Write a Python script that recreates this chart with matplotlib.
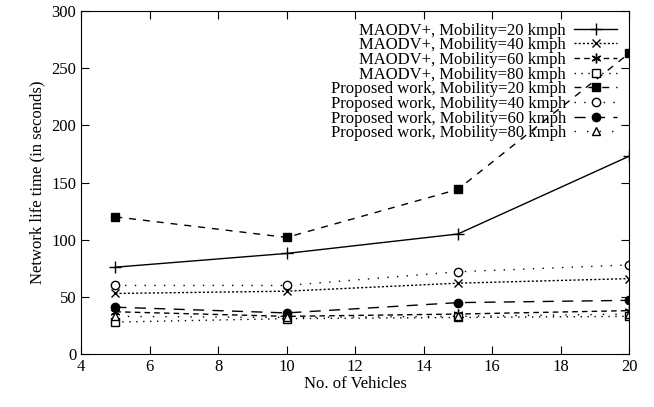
import numpy as np
import matplotlib.pyplot as plt

vehicles = [5, 10, 15, 20]

maodv_20 = [76, 88, 105, 173]
maodv_40 = [53, 55, 62, 66]
maodv_60 = [37, 33, 35, 38]
maodv_80 = [28, 31, 32, 33]
prop_20 = [120, 102, 144, 263]
prop_40 = [60, 60, 72, 78]
prop_60 = [41, 36, 45, 47]
prop_80 = [33, 32, 33, 35]

labels = ['MAODV+, Mobility=20 kmph', 'MAODV+, Mobility=40 kmph',
          'MAODV+, Mobility=60 kmph', 'MAODV+, Mobility=80 kmph',
          'Proposed work, Mobility=20 kmph', 'Proposed work, Mobility=40 kmph',
          'Proposed work, Mobility=60 kmph', 'Proposed work, Mobility=80 kmph']

plt.rcParams['font.family'] = ['Liberation Serif', 'DejaVu Serif']

fig = plt.figure(figsize=(6.54, 4.07), dpi=100)
ax = fig.add_axes([0.124, 0.130, 0.838, 0.843])

ms = 6
ax.plot(vehicles, maodv_20, color='black', lw=1, ls='-', marker='+', ms=8, label=labels[0])
ax.plot(vehicles, maodv_40, color='black', lw=1, ls=(0, (1.5, 1.5)), marker='x', ms=ms, label=labels[1])
ax.plot(vehicles, maodv_60, color='black', lw=1, ls=(0, (4, 3)), marker=(6, 2, 0), ms=7, label=labels[2])
ax.plot(vehicles, maodv_80, color='black', lw=1, ls=(0, (1, 4)), marker='s', mfc='white', ms=ms, label=labels[3])
ax.plot(vehicles, prop_20, color='black', lw=1, ls=(0, (5, 5)), marker='s', ms=ms, label=labels[4])
ax.plot(vehicles, prop_40, color='black', lw=1, ls=(0, (1, 6)), marker='o', mfc='white', ms=ms, label=labels[5])
ax.plot(vehicles, prop_60, color='black', lw=1, ls=(0, (8, 6)), marker='o', ms=ms, label=labels[6])
ax.plot(vehicles, prop_80, color='black', lw=1, ls=(0, (1, 8)), marker='^', mfc='white', ms=ms, label=labels[7])

ax.set_xlim(4, 20)
ax.set_ylim(0, 300)
ax.set_xticks(np.arange(4, 21, 2))
ax.set_yticks(np.arange(0, 301, 50))
ax.tick_params(direction='in', top=True, right=True, labelsize=12, length=6)
ax.set_xlabel('No. of Vehicles', fontsize=12, labelpad=1)
ax.set_ylabel('Network life time (in seconds)', fontsize=12, labelpad=4)

leg = ax.legend(loc='upper right', frameon=False, markerfirst=False, fontsize=12,
                handlelength=2.6, labelspacing=-0.08, borderaxespad=0.4, handletextpad=0.5,
                borderpad=0.3)
for t in leg.get_texts():
    t.set_ha('right')
leg._legend_box.align = 'right'
for vp in leg._legend_handle_box.get_children():
    vp.align = 'right'

fig.savefig('out.png', dpi=100)
